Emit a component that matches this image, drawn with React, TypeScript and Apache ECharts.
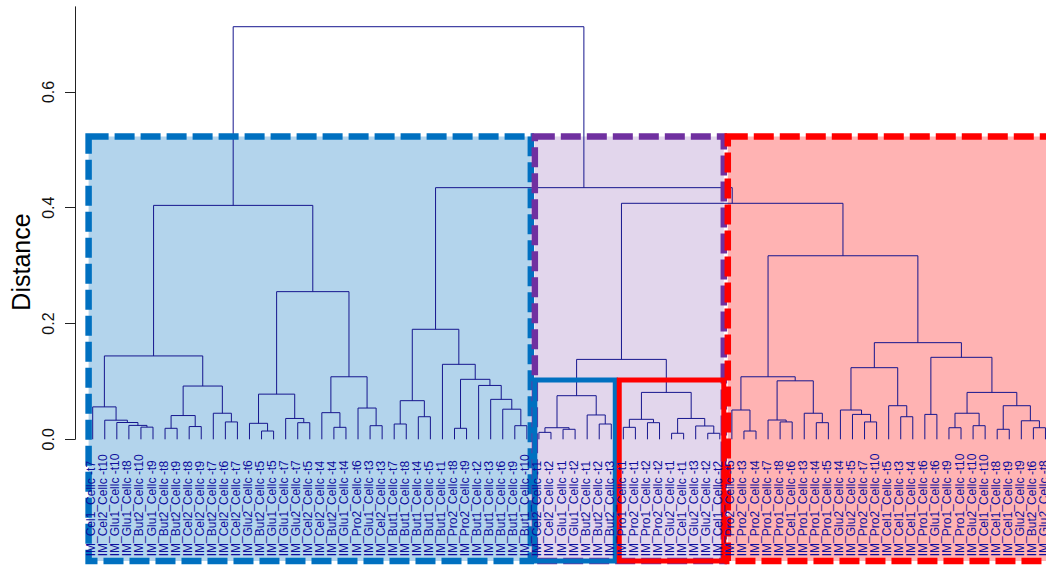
import React, { useEffect, useRef } from "react";
import * as echarts from "echarts";

// Leaf labels in dendrogram order (left to right)
const leafLabels: string[] = [
  "IM_Cel1_Cellc -t7", "IM_Cel2_Cellc -t10", "IM_Glu1_Cellc -t10", "IM_Glu1_Cellc -t8",
  "IM_But2_Cellc -t10", "IM_Glu1_Cellc -t9", "IM_But2_Cellc -t8", "IM_But2_Cellc -t9",
  "IM_Cel2_Cellc -t8", "IM_Cel2_Cellc -t9", "IM_But2_Cellc -t7", "IM_Cel2_Cellc -t6",
  "IM_Cel2_Cellc -t7", "IM_Glu2_Cellc -t6", "IM_But2_Cellc -t5", "IM_Glu1_Cellc -t5",
  "IM_Glu1_Cellc -t7", "IM_Glu2_Cellc -t7", "IM_Cel2_Cellc -t5", "IM_Cel2_Cellc -t4",
  "IM_But2_Cellc -t4", "IM_Glu1_Cellc -t4", "IM_Pro2_Cellc -t6", "IM_Glu1_Cellc -t3",
  "IM_Cel2_Cellc -t3", "IM_But1_Cellc -t7", "IM_But1_Cellc -t8", "IM_But1_Cellc -t4",
  "IM_But1_Cellc -t5", "IM_But1_Cellc -t1", "IM_Pro2_Cellc -t8", "IM_Pro2_Cellc -t9",
  "IM_But1_Cellc -t2", "IM_But1_Cellc -t3", "IM_But1_Cellc -t6", "IM_But1_Cellc -t9",
  "IM_But1_Cellc -t10", "IM_Cel2_Cellc -t1", "IM_Cel2_Cellc -t2", "IM_Glu1_Cellc -t1",
  "IM_Glu1_Cellc -t2", "IM_But2_Cellc -t1", "IM_But2_Cellc -t2", "IM_But2_Cellc -t3",
  "IM_Pro1_Cellc -t1", "IM_Pro2_Cellc -t1", "IM_Pro1_Cellc -t2", "IM_Pro2_Cellc -t2",
  "IM_Glu2_Cellc -t1", "IM_Cel1_Cellc -t1", "IM_Glu2_Cellc -t3", "IM_Glu2_Cellc -t2",
  "IM_Cel1_Cellc -t2", "IM_Pro2_Cellc -t5", "IM_Pro2_Cellc -t3", "IM_Pro2_Cellc -t4",
  "IM_Pro1_Cellc -t7", "IM_Pro1_Cellc -t8", "IM_Cel1_Cellc -t6", "IM_Pro1_Cellc -t3",
  "IM_Pro1_Cellc -t4", "IM_Pro1_Cellc -t5", "IM_Glu2_Cellc -t4", "IM_Glu2_Cellc -t5",
  "IM_Pro2_Cellc -t7", "IM_Pro2_Cellc -t10", "IM_Cel1_Cellc -t5", "IM_Cel1_Cellc -t3",
  "IM_Cel1_Cellc -t4", "IM_Pro1_Cellc -t6", "IM_Glu1_Cellc -t6", "IM_Pro1_Cellc -t9",
  "IM_Pro1_Cellc -t10", "IM_Glu2_Cellc -t10", "IM_Cel1_Cellc -t10", "IM_Cel1_Cellc -t8",
  "IM_Cel1_Cellc -t9", "IM_Glu2_Cellc -t9", "IM_But2_Cellc -t6", "IM_Glu2_Cellc -t8",
];

// hclust-style merges: [left, right, height]; negative = leaf position (1-based), positive = earlier merge row (1-based)
const merges: [number, number, number][] = [
  [-5, -6, 0.021], [-4, 1, 0.024], [-3, 2, 0.029], [-2, 3, 0.033], [-1, 4, 0.056],
  [-7, -8, 0.019], [-9, -10, 0.022], [6, 7, 0.041], [-12, -13, 0.03], [-11, 9, 0.045],
  [8, 10, 0.092], [5, 11, 0.144],
  [-15, -16, 0.0143], [-14, 13, 0.0276], [-18, -19, 0.0287], [-17, 15, 0.036], [14, 16, 0.078],
  [-21, -22, 0.0207], [-20, 18, 0.046], [-24, -25, 0.0235], [-23, 20, 0.054], [19, 21, 0.108],
  [17, 22, 0.255], [12, 23, 0.404],
  [-26, -27, 0.0264], [-28, -29, 0.039], [25, 26, 0.0667], [-31, -32, 0.019], [-36, -37, 0.0235],
  [-35, 29, 0.052], [-34, 30, 0.069], [-33, 31, 0.093], [28, 32, 0.1036], [-30, 33, 0.1295],
  [27, 34, 0.19],
  [-38, -39, 0.012], [-40, -41, 0.0173], [36, 37, 0.02], [-43, -44, 0.0264], [-42, 39, 0.042],
  [38, 40, 0.0753], [-45, -46, 0.0207], [-47, -48, 0.0287], [42, 43, 0.0345], [-49, -50, 0.0104],
  [-52, -53, 0.0104], [-51, 46, 0.023], [45, 47, 0.036], [44, 48, 0.081], [41, 49, 0.138],
  [-55, -56, 0.0143], [-54, 51, 0.0506], [-58, -59, 0.03], [-57, 53, 0.0333], [-61, -62, 0.0287],
  [-60, 55, 0.045], [54, 56, 0.101], [52, 57, 0.108], [-65, -66, 0.03], [-64, 59, 0.043],
  [-63, 60, 0.0506], [-68, -69, 0.039], [-67, 62, 0.058], [61, 63, 0.1237], [-70, -71, 0.043],
  [-72, -73, 0.02], [-74, -75, 0.0235], [66, 67, 0.045], [-76, -77, 0.0173], [-79, -80, 0.02],
  [-78, 70, 0.032], [69, 71, 0.058], [68, 72, 0.081], [65, 73, 0.1416], [64, 74, 0.1669],
  [58, 75, 0.317], [50, 76, 0.4076], [35, 77, 0.4346], [24, 78, 0.7126],
];

const yTickValues = [0, 0.2, 0.4, 0.6];
const yAxisMax = 0.747;

// Cluster boxes: leaf ranges (1-based, inclusive)
const clusterRanges: [number, number][] = [[1, 37], [38, 53], [54, 80]];
const clusterBoxTop = 0.523;
const subClusterRanges: [number, number][] = [[38, 44], [45, 53]];
const subClusterBoxTop = 0.1024;
const boxBottom = -0.21;

// Styles
const clusterStroke = ["#0070C0", "#7030A0", "#FF0000"];
const clusterFill = ["#B3D4EC", "#E2D6EC", "#FFB3B3"];
const subClusterStroke = ["#0070C0", "#FF0000"];
const lineColor = "#16168E";
const labelColor = "#0E0E9C";
const FONT = '"Liberation Sans", Arial, Helvetica, sans-serif';

function buildSegments(): number[][] {
  const nodes: { x: number; h: number }[] = [];
  const segs: number[][] = [];
  for (const [a, b, h] of merges) {
    const pa = a < 0 ? { x: -a, h: 0 } : nodes[a - 1];
    const pb = b < 0 ? { x: -b, h: 0 } : nodes[b - 1];
    segs.push([pa.x, pa.h, pb.x, pb.h, h]);
    nodes.push({ x: (pa.x + pb.x) / 2, h });
  }
  return segs;
}

export default function App() {
  const ref = useRef<HTMLDivElement>(null);

  useEffect(() => {
    if (!ref.current) return;
    const chart = echarts.init(ref.current, undefined, { renderer: "svg" });
    const baseY = 439.3;
    const pxPerUnit = 579;
    const leafStep = 12.06;
    const firstLeafX = 92.7;
    const axisX = 75;
    const gridLeft = firstLeafX - leafStep / 2;
    const gridWidth = leafStep * leafLabels.length;
    const gridTop = baseY - yAxisMax * pxPerUnit;
    const gridHeight = yAxisMax * pxPerUnit;

    const segments = buildSegments();

    const boxRect = (api: any, from: number, to: number, top: number) => {
      const p1 = api.coord([from - 0.34, top]);
      const p2 = api.coord([to + 0.33, boxBottom]);
      return { x: p1[0], y: p1[1], width: p2[0] - p1[0], height: p2[1] - p1[1] };
    };

    const option: any = {
      animation: false,
      backgroundColor: "#ffffff",
      grid: {
        left: gridLeft,
        top: gridTop,
        width: gridWidth,
        height: gridHeight,
        containLabel: false,
        outerBoundsMode: "none",
      },
      xAxis: { type: "value", min: 0.5, max: leafLabels.length + 0.5, show: false },
      yAxis: {
        type: "value",
        min: 0,
        max: yAxisMax,
        offset: gridLeft - axisX,
        position: "left",
        splitLine: { show: false },
        axisLine: { show: true, onZero: false, lineStyle: { color: "#222", width: 1 } },
        axisTick: { show: true, length: 10, customValues: yTickValues, lineStyle: { color: "#222", width: 1 } },
        axisLabel: {
          customValues: yTickValues,
          rotate: 90,
          margin: 19,
          fontSize: 16,
          fontFamily: FONT,
          color: "#111",
          formatter: (v: number) => v.toFixed(1),
        },
      },
      series: [
        {
          type: "custom",
          name: "cluster-fill",
          clip: false,
          silent: true,
          data: clusterRanges.map((r) => [r[0], r[1]]),
          renderItem: (params: any, api: any) => ({
            type: "rect",
            shape: boxRect(api, api.value(0), api.value(1), clusterBoxTop),
            style: { fill: clusterFill[params.dataIndex], stroke: "none" },
          }),
        },
        {
          type: "custom",
          name: "dendrogram",
          clip: false,
          silent: true,
          data: segments,
          renderItem: (params: any, api: any) => {
            const x1 = api.value(0), h1 = api.value(1), x2 = api.value(2), h2 = api.value(3), h = api.value(4);
            return {
              type: "polyline",
              shape: {
                points: [api.coord([x1, h1]), api.coord([x1, h]), api.coord([x2, h]), api.coord([x2, h2])],
              },
              style: { stroke: lineColor, lineWidth: 1, fill: "none" },
            };
          },
        },
        {
          type: "custom",
          name: "cluster-border",
          clip: false,
          silent: true,
          data: clusterRanges.map((r) => [r[0], r[1]]),
          renderItem: (params: any, api: any) => ({
            type: "rect",
            shape: boxRect(api, api.value(0), api.value(1), clusterBoxTop),
            style: { fill: "none", stroke: clusterStroke[params.dataIndex], lineWidth: 6.5, lineDash: [20, 6] },
          }),
        },
        {
          type: "custom",
          name: "subcluster-border",
          clip: false,
          silent: true,
          data: subClusterRanges.map((r) => [r[0], r[1]]),
          renderItem: (params: any, api: any) => ({
            type: "rect",
            shape: boxRect(api, api.value(0), api.value(1), subClusterBoxTop),
            style: { fill: "none", stroke: subClusterStroke[params.dataIndex], lineWidth: 5 },
          }),
        },
        {
          type: "custom",
          name: "leaf-labels",
          clip: false,
          silent: true,
          data: leafLabels.map((_, i) => [i + 1, 0]),
          renderItem: (params: any, api: any) => {
            const p = api.coord([api.value(0), 0]);
            return {
              type: "text",
              x: p[0] - 1.5,
              y: p[1] + 117,
              rotation: Math.PI / 2,
              style: {
                text: leafLabels[params.dataIndex],
                fill: labelColor,
                font: `12px ${FONT}`,
                textAlign: "left",
                textVerticalAlign: "middle",
                align: "left",
                verticalAlign: "middle",
              },
            };
          },
        },
      ],
      graphic: [
        {
          type: "text",
          x: 21,
          y: 262,
          rotation: Math.PI / 2,
          silent: true,
          style: {
            text: "Distance",
            fill: "#000",
            font: `25px ${FONT}`,
            textAlign: "center",
            textVerticalAlign: "middle",
            align: "center",
            verticalAlign: "middle",
          },
        },
      ],
    };

    chart.setOption(option);
    return () => chart.dispose();
  }, []);

  return (
    <div
      ref={ref}
      style={{ position: "absolute", left: 0, top: 0, width: 1046, height: 565, background: "#fff" }}
    />
  );
}
